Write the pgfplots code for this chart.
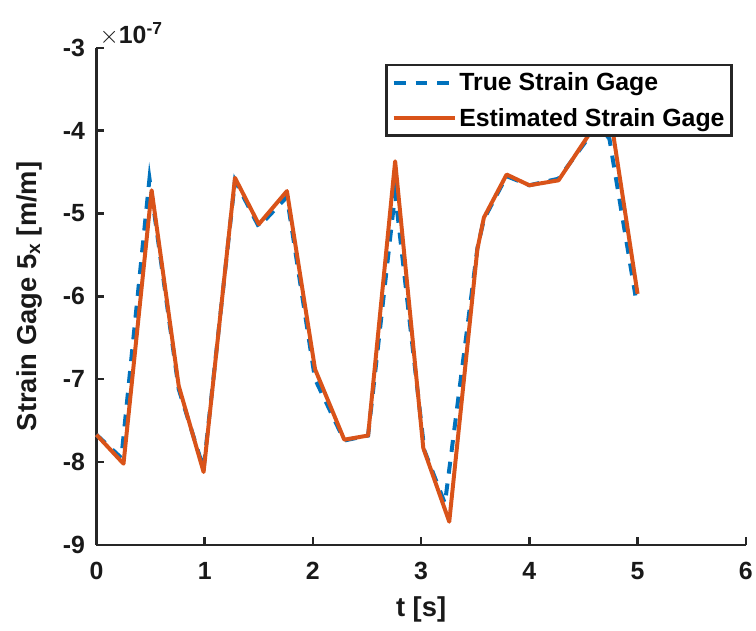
\documentclass[border=0pt]{standalone}
\usepackage{pgfplots}
\pgfplotsset{compat=1.18}
\usepackage{fontspec}
\setmainfont{Liberation Sans}
\usetikzlibrary{calc}
\definecolor{mblue}{rgb}{0,0.447,0.741}
\definecolor{morange}{rgb}{0.851,0.325,0.098}
\begin{document}
\begin{tikzpicture}
\begin{axis}[
  name=ax,
  at={(0,0)}, anchor=south west,
  scale only axis,
  width=653pt, height=500pt,
  xmin=0, xmax=6, ymin=-9, ymax=-3,
  axis x line*=bottom, axis y line*=left,
  axis line style={line width=2.4pt, color=black!85, -},
  every tick/.style={line width=2.4pt, color=black!85},
  tick align=inside,
  major tick length=8pt,
  xtick={0,1,2,3,4,5,6},
  xticklabels={0,1,2,3,4,5,6},
  ytick={-9,-8,-7,-6,-5,-4,-3},
  yticklabels={-9,-8,-7,-6,-5,-4,-3},
  ticklabel style={font=\fontsize{25}{29}\selectfont\bfseries, color=black!90},
  xticklabel style={yshift=-14pt},
  yticklabel style={xshift=-8pt},
  xlabel={t [s]},
  ylabel={Strain Gage 5\textsubscript{x} [m/m]},
  label style={font=\fontsize{27.5}{32}\selectfont\bfseries, color=black!90},
  xlabel style={yshift=-10pt},
  ylabel style={yshift=14pt},
  legend style={at={(0.980,0.968)}, anchor=north east, draw=black!85, line width=2.6pt,
    font=\fontsize{25}{29}\selectfont\bfseries, inner xsep=5pt, inner ysep=6pt, row sep=12pt,
    cells={anchor=west}},
  legend cell align=left,
  legend image code/.code={\draw[#1, line width=4pt] (0pt,0pt) -- (62pt,0pt);},
  clip=false,
]
\addplot[mblue, line width=4pt, dash pattern=on 12pt off 10pt] coordinates {
(0,-7.67) (0.23,-7.95) (0.49,-4.58) (0.76,-7.12) (0.99,-8.08) (1.28,-4.60)
(1.50,-5.16) (1.76,-4.80) (2.02,-7.00) (2.29,-7.74) (2.51,-7.68) (2.76,-4.76)
(3.03,-7.86) (3.22,-8.50) (3.52,-5.42) (3.58,-5.07) (3.79,-4.55) (4.00,-4.66)
(4.27,-4.58) (4.55,-4.08) (4.65,-3.95) (4.74,-4.10) (4.98,-5.99)
};
\addlegendentry{True Strain Gage}
\addplot[morange, line width=4pt, line join=round] coordinates {
(0,-7.67) (0.25,-8.02) (0.51,-4.72) (0.76,-7.08) (0.99,-8.12) (1.28,-4.57)
(1.50,-5.13) (1.76,-4.73) (2.02,-6.88) (2.29,-7.73) (2.51,-7.68) (2.76,-4.37)
(3.02,-7.83) (3.26,-8.72) (3.52,-5.43) (3.58,-5.05) (3.79,-4.53) (4.00,-4.66)
(4.27,-4.60) (4.55,-4.05) (4.65,-3.95) (4.77,-4.00) (5.00,-5.97)
};
\addlegendentry{Estimated Strain Gage}
\node[anchor=south west, inner sep=0pt, font=\fontsize{25}{29}\selectfont, color=black!90] at ([xshift=3pt,yshift=2pt]rel axis cs:0,1) {$\times$\textbf{10}\textsuperscript{\textbf{-7}}};
\end{axis}
\useasboundingbox ($(ax.south west)+(-97pt,-86pt)$) rectangle ($(ax.north east)+(6pt,48pt)$);
\end{tikzpicture}
\end{document}
